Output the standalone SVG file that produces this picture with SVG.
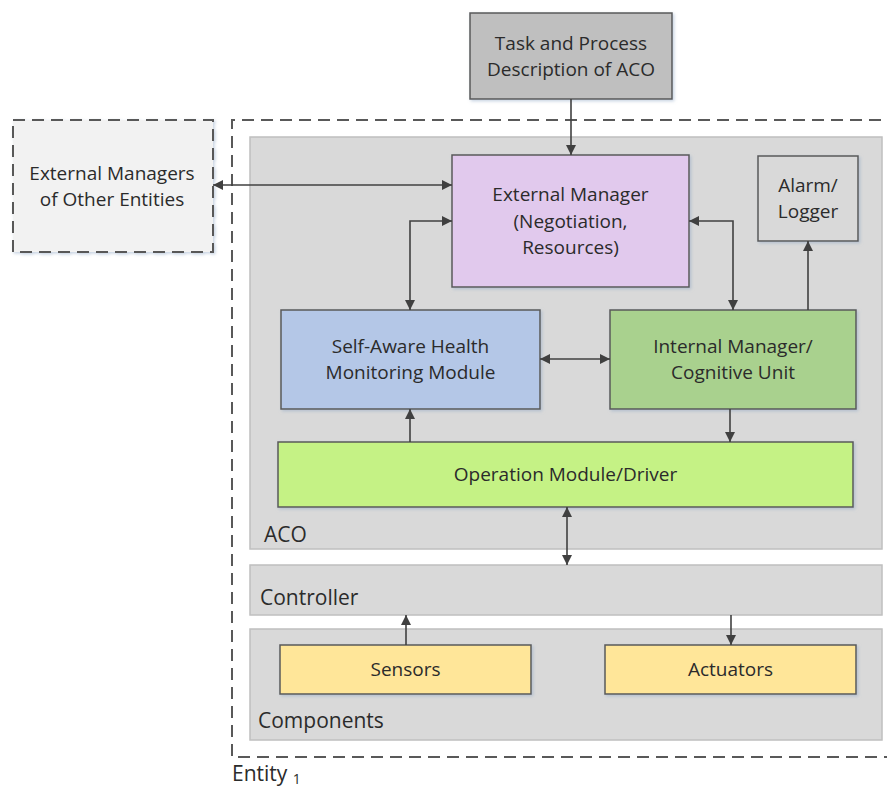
<svg xmlns="http://www.w3.org/2000/svg" width="887" height="789" viewBox="0 0 887 789">
  <style>
    text { font-family: "Open Sans", "Liberation Sans", sans-serif; font-size: 19px; fill: #2b2b2b; }
    .c { text-anchor: middle; }
    .lbl { font-size: 21px; }
    .box { stroke: #595959; stroke-width: 1.5; filter: url(#sh); }
    .panel { fill: #d9d9d9; stroke: #bfbfbf; stroke-width: 1.5; }
    .dash { fill: none; stroke: #595959; stroke-width: 2; stroke-dasharray: 12 7; }
    .wire { fill: none; stroke: #404040; stroke-width: 1.6; }
  </style>
  <defs>
    <filter id="sh" x="-10%" y="-10%" width="130%" height="130%">
      <feDropShadow dx="1.5" dy="1.5" stdDeviation="1.5" flood-color="#8fa6c4" flood-opacity="0.5"/>
    </filter>
    <marker id="ah" viewBox="0 0 10 10" refX="10" refY="5" markerWidth="10" markerHeight="10" markerUnits="userSpaceOnUse" orient="auto-start-reverse">
      <path d="M0,0 L10,5 L0,10 Z" fill="#404040"/>
    </marker>
  </defs>

  <!-- entity boundary -->
  <g id="entity">
    <path class="dash" d="M900,120 H232 V757 H900"/>
    <text class="lbl" x="232" y="781">Entity <tspan font-size="14" dy="3">1</tspan></text>
  </g>

  <!-- panels -->
  <g id="aco">
    <rect class="panel" x="250" y="137" width="632" height="412"/>
    <text class="lbl" x="264" y="542">ACO</text>
  </g>
  <g id="controller">
    <rect class="panel" x="250" y="565" width="632" height="50"/>
    <text class="lbl" x="260" y="605">Controller</text>
  </g>
  <g id="components">
    <rect class="panel" x="250" y="629" width="632" height="111"/>
    <text class="lbl" x="258" y="728">Components</text>
  </g>

  <g id="task">
    <rect class="box" x="470" y="13" width="202" height="86" fill="#bfbfbf"/>
    <text class="c" x="571" y="50">Task and Process</text>
    <text class="c" x="571" y="76">Description of ACO</text>
  </g>

  <g id="external-others">
    <rect x="13" y="120" width="200" height="132" fill="#f2f2f2" stroke="#595959" stroke-width="2" stroke-dasharray="12 7" filter="url(#sh)"/>
    <text class="c" x="112" y="180">External Managers</text>
    <text class="c" x="112" y="206">of Other Entities</text>
  </g>

  <g id="external-manager">
    <rect class="box" x="452" y="155" width="237" height="132" fill="#e1c9ed"/>
    <text class="c" x="570.5" y="201">External Manager</text>
    <text class="c" x="570.5" y="228">(Negotiation,</text>
    <text class="c" x="570.5" y="254">Resources)</text>
  </g>

  <g id="alarm">
    <rect class="box" x="758" y="156" width="100" height="85" fill="#d9d9d9"/>
    <text class="c" x="808" y="192">Alarm/</text>
    <text class="c" x="808" y="218">Logger</text>
  </g>

  <g id="health">
    <rect class="box" x="281" y="310" width="259" height="99" fill="#b4c7e7"/>
    <text class="c" x="410.5" y="353">Self-Aware Health</text>
    <text class="c" x="410.5" y="379">Monitoring Module</text>
  </g>

  <g id="internal-manager">
    <rect class="box" x="610" y="310" width="246" height="99" fill="#a9d18e"/>
    <text class="c" x="733" y="353">Internal Manager/</text>
    <text class="c" x="733" y="379">Cognitive Unit</text>
  </g>

  <g id="operation">
    <rect class="box" x="278" y="442" width="575" height="65" fill="#c5f285"/>
    <text class="c" x="565.5" y="481">Operation Module/Driver</text>
  </g>

  <g id="sensors">
    <rect class="box" x="280" y="645" width="251" height="49" fill="#ffe699"/>
    <text class="c" x="405.5" y="676">Sensors</text>
  </g>

  <g id="actuators">
    <rect class="box" x="605" y="645" width="251" height="49" fill="#ffe699"/>
    <text class="c" x="730.5" y="676">Actuators</text>
  </g>

  <!-- connectors -->
  <g id="connectors">
    <path class="wire" d="M571,99 V155" marker-end="url(#ah)"/>
    <path class="wire" d="M213,185 H452" marker-start="url(#ah)" marker-end="url(#ah)"/>
    <path class="wire" d="M452,221 H410 V310" marker-start="url(#ah)" marker-end="url(#ah)"/>
    <path class="wire" d="M689,221 H733 V310" marker-start="url(#ah)" marker-end="url(#ah)"/>
    <path class="wire" d="M808,310 V241" marker-end="url(#ah)"/>
    <path class="wire" d="M540,359 H610" marker-start="url(#ah)" marker-end="url(#ah)"/>
    <path class="wire" d="M410,442 V409" marker-end="url(#ah)"/>
    <path class="wire" d="M730,409 V442" marker-end="url(#ah)"/>
    <path class="wire" d="M567,507 V565" marker-start="url(#ah)" marker-end="url(#ah)"/>
    <path class="wire" d="M406,645 V615" marker-end="url(#ah)"/>
    <path class="wire" d="M731,615 V645" marker-end="url(#ah)"/>
  </g>
</svg>
